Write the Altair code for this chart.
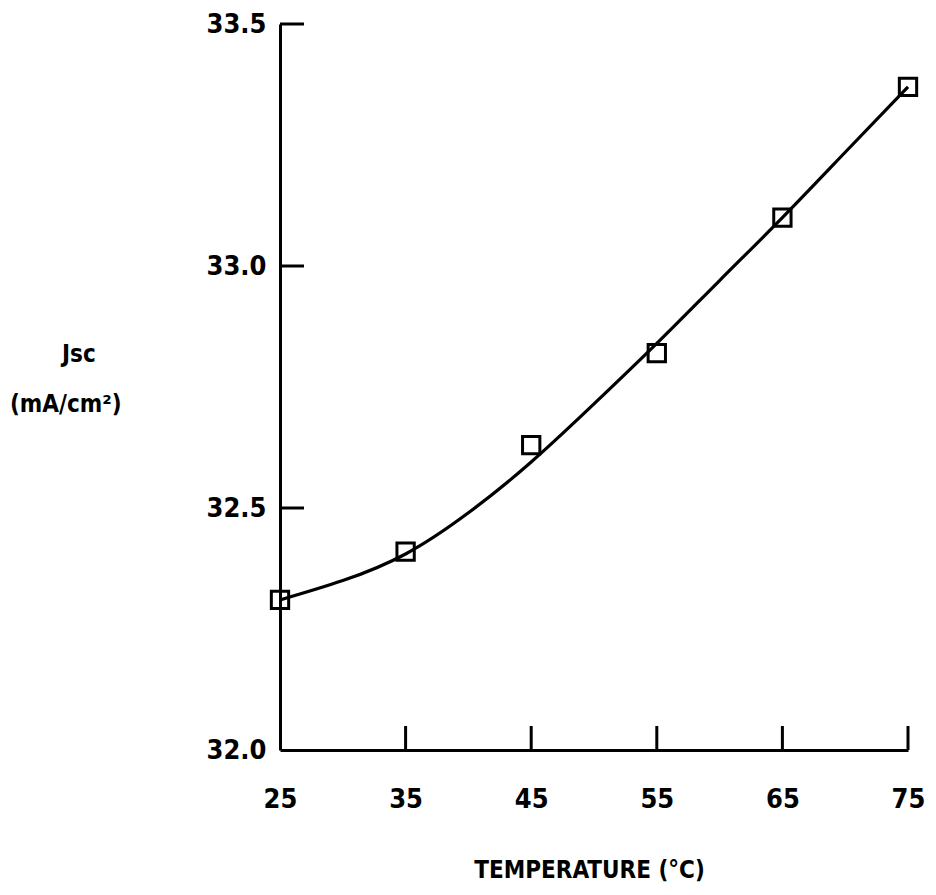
import altair as alt
import pandas as pd

# Measured points (squares)
temp = [25, 35, 45, 55, 65, 75]
jsc = [32.31, 32.41, 32.63, 32.82, 33.10, 33.37]

# Fitted curve
curve_temp = [25, 30, 35, 40, 45, 50, 55, 60, 65, 70, 75]
curve_jsc = [32.31, 32.35, 32.405, 32.49, 32.595, 32.715, 32.84, 32.97, 33.10, 33.235, 33.37]

x_ticks = [25, 35, 45, 55, 65, 75]
y_ticks = [32.0, 32.5, 33.0, 33.5]
x_inner_ticks = [35, 45, 55, 65, 75]
y_inner_ticks = [32.5, 33.0, 33.5]

FONT = "DejaVu Sans Condensed"
W, H = 628, 726
TICK = 24

pts = pd.DataFrame({"t": temp, "j": jsc})
curve_df = pd.DataFrame({"t": curve_temp, "j": curve_jsc})
xt_df = pd.DataFrame({"t": x_inner_ticks})
yt_df = pd.DataFrame({"j": y_inner_ticks})

xs = alt.Scale(domain=[25, 75], nice=False, zero=False)
ys = alt.Scale(domain=[32.0, 33.5], nice=False, zero=False)

x_axis = alt.Axis(values=x_ticks, format="d", title="TEMPERATURE (°C)", tickSize=0,
                  labelPadding=36, labelFont=FONT, labelFontSize=27, labelFontWeight="bold",
                  labelColor="black", labelFlush=False, domainColor="black", domainWidth=3,
                  grid=False, titleFont=FONT, titleFontSize=24, titleFontWeight="bold",
                  titleColor="black", titlePadding=46, titleX=309, titleAlign="center")
y_axis = alt.Axis(values=y_ticks, format=".1f", title=None, tickSize=0,
                  labelPadding=14, labelFont=FONT, labelFontSize=27, labelFontWeight="bold",
                  labelColor="black", labelFlush=False, domainColor="black", domainWidth=3,
                  grid=False)

X = alt.X("t:Q", scale=xs, axis=x_axis)
Y = alt.Y("j:Q", scale=ys, axis=y_axis)

curve = alt.Chart(curve_df).mark_line(color="black", strokeWidth=3.2, interpolate="natural").encode(x=X, y=Y)
points = alt.Chart(pts).mark_point(shape="square", size=300, filled=False, color="black",
                                   strokeWidth=3, opacity=1).encode(x=X, y=Y)

xt = alt.Chart(xt_df).mark_rule(color="black", strokeWidth=3).encode(
    x=X, y=alt.value(H), y2=alt.value(H - TICK))
yt = alt.Chart(yt_df).mark_rule(color="black", strokeWidth=3).encode(
    y=Y, x=alt.value(0), x2=alt.value(TICK))

one = pd.DataFrame({"a": [0]})
t1 = alt.Chart(one).mark_text(text="Jsc", font=FONT, fontSize=24, fontWeight="bold",
                              align="left", baseline="middle", color="black").encode(
    x=alt.value(-218), y=alt.value(331))
t2 = alt.Chart(one).mark_text(text="(mA/cm²)", font=FONT, fontSize=24, fontWeight="bold",
                              align="left", baseline="middle", color="black").encode(
    x=alt.value(-270), y=alt.value(381))

chart = alt.layer(curve, points, xt, yt, t1, t2).properties(
    width=W, height=H,
    autosize=alt.AutoSizeParams(type="none"),
    padding={"left": 272, "top": 16, "right": 20, "bottom": 137},
    background="white",
).configure_view(stroke=None)

chart.save("out.html", embed_options={"renderer": "svg", "actions": False})
